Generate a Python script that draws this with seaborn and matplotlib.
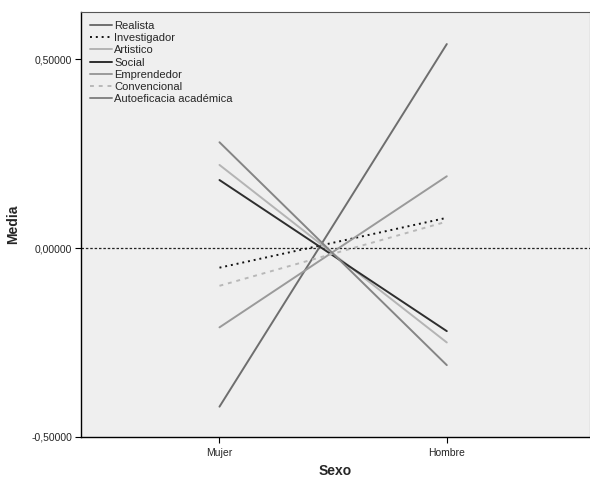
import matplotlib
matplotlib.use("Agg")
import matplotlib.pyplot as plt
import matplotlib.ticker as mticker
import seaborn as sns
import pandas as pd

# category levels and the estimated marginal means
sexo = ['Mujer', 'Hombre']
realista = [-0.42, 0.54]
investigador = [-0.052, 0.08]
artistico = [0.22, -0.25]
social = [0.18, -0.22]
emprendedor = [-0.21, 0.19]
convencional = [-0.10, 0.07]
autoeficacia = [0.28, -0.31]

series = {
    'Realista': realista,
    'Investigador': investigador,
    'Artistico': artistico,
    'Social': social,
    'Emprendedor': emprendedor,
    'Convencional': convencional,
    'Autoeficacia académica': autoeficacia,
}

df = pd.DataFrame(series, index=sexo).reset_index(names='Sexo')
long_df = df.melt(id_vars='Sexo', var_name='Variable', value_name='Media')

colores = {
    'Realista': '#6e6e6e',
    'Investigador': '#111111',
    'Artistico': '#b4b4b4',
    'Social': '#2e2e2e',
    'Emprendedor': '#9a9a9a',
    'Convencional': '#b8b8b8',
    'Autoeficacia académica': '#858585',
}
trazos = {
    'Realista': '',
    'Investigador': (1, 2),
    'Artistico': '',
    'Social': '',
    'Emprendedor': '',
    'Convencional': (2, 2.5),
    'Autoeficacia académica': '',
}

sns.set_style('white')
plt.rcParams['font.family'] = ['Liberation Sans', 'DejaVu Sans']

fig = plt.figure(figsize=(5.9, 4.78), dpi=100)
ax = fig.add_axes([0.137, 0.086, 0.863, 0.889])
ax.set_facecolor('#efefef')

sns.lineplot(data=long_df, x='Sexo', y='Media', hue='Variable', style='Variable',
             palette=colores, dashes=trazos, linewidth=1.4, ax=ax, sort=False)

ax.axhline(0, color='#222222', linestyle=(0, (2, 1.5)), linewidth=0.9, zorder=0)

ax.set_xlim(-0.61, 1.63)
ax.set_ylim(-0.5, 0.625)
ax.set_yticks([-0.5, 0.0, 0.5])
ax.yaxis.set_major_formatter(mticker.FuncFormatter(lambda v, p: f'{v:.5f}'.replace('.', ',')))
ax.tick_params(axis='both', labelsize=7.5, length=4, width=0.8, color='black',
               left=True, bottom=True, pad=2)
ax.tick_params(axis='x', pad=4)

ax.set_xlabel('Sexo', fontsize=10, fontweight='bold', labelpad=4)
ax.set_ylabel('Media', fontsize=10, fontweight='bold', labelpad=8)

for lado in ['left', 'bottom']:
    ax.spines[lado].set_color('black')
    ax.spines[lado].set_linewidth(1.0)
for lado in ['top', 'right']:
    ax.spines[lado].set_color('#555555')
    ax.spines[lado].set_linewidth(0.8)

leg = ax.legend(loc='upper left', frameon=False, fontsize=8, title=None,
                handlelength=2.0, handletextpad=0.2, labelspacing=0.2,
                borderaxespad=0.5, borderpad=0.3)

fig.savefig('out.png', dpi=100)
